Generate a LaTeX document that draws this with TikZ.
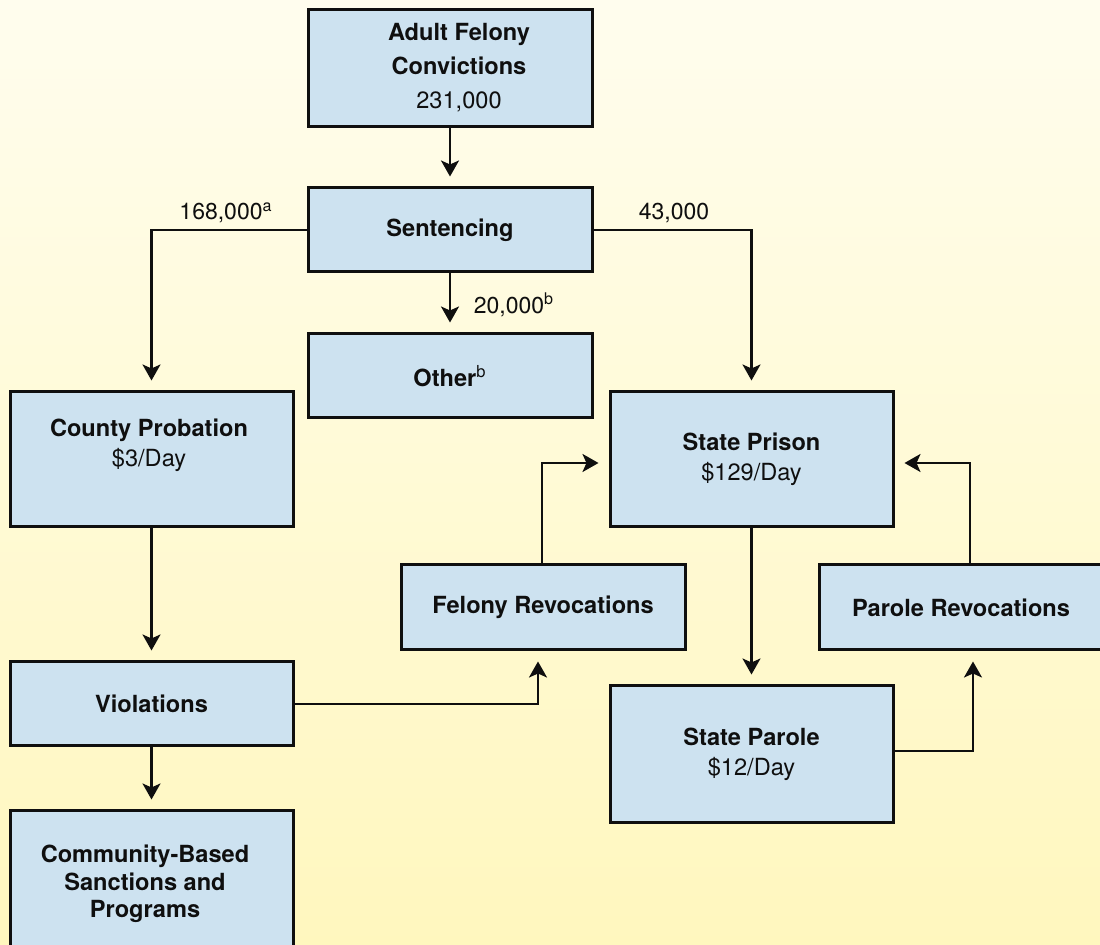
\documentclass[tikz,border=0pt]{standalone}
\usepackage{fontspec}
\setmainfont{TeX Gyre Heros}
\usetikzlibrary{arrows.meta,calc}
\definecolor{bgtop}{RGB}{255,253,238}
\definecolor{bgbot}{RGB}{255,247,190}
\definecolor{boxfill}{RGB}{205,226,240}
\definecolor{ink}{RGB}{15,15,15}
\tikzset{
 box/.style={draw=ink, fill=boxfill, line width=1.5pt, rectangle, inner sep=0pt, text=ink, align=center, font=\fontsize{11.8}{15}\selectfont},
 txt/.style={text=ink, align=center, inner sep=0pt},
 conn/.style={draw=ink, line width=1.2pt},
 arr/.style={conn, -{Stealth[length=8pt,width=9pt,inset=2pt]}, shorten >=5pt},
 lbl/.style={text=ink, inner sep=0pt, font=\fontsize{11.5}{13}\selectfont}
}
\begin{document}
\begin{tikzpicture}[x=0.5pt,y=-0.5pt]
\useasboundingbox (0,0) rectangle (1100,945);
\clip (0,0) rectangle (1100,945);
\shade[top color=bgtop,bottom color=bgbot] (0,0) rectangle (1100,945);

\node[box, minimum width=142pt, minimum height=58.5pt] (adult) at (450,68.5) {};
\node[txt, font=\fontsize{11.8}{17}\selectfont] (adultT) at (459,68) {\textbf{Adult Felony}\\\textbf{Convictions}\\231,000};
\node[box, minimum width=142pt, minimum height=42pt] (sent) at (450,230) {\textbf{Sentencing}};
\node[box, minimum width=142pt, minimum height=42pt] (other) at (450,376) {\textbf{Other}\textsuperscript{b}};
\node[box, minimum width=141.5pt, minimum height=67.5pt] (county) at (151.5,459.5) {};
\node[txt, font=\fontsize{11.8}{15}\selectfont] (countyT) at (149,445) {\textbf{County Probation}\\\$3/Day};
\node[box, minimum width=141.5pt, minimum height=67.5pt] (prison) at (751.5,459.5) {\textbf{State Prison}\\\$129/Day};
\node[box, minimum width=142pt, minimum height=42.5pt] (felrev) at (543,607.5) {\textbf{Felony Revocations}};
\node[box, minimum width=142pt, minimum height=42.5pt] (parrev) at (961,607.5) {\textbf{Parole Revocations}};
\node[box, minimum width=141.5pt, minimum height=42pt] (viol) at (151.5,704) {\textbf{Violations}};
\node[box, minimum width=141.5pt, minimum height=68.5pt] (parole) at (751.5,754.5) {\textbf{State Parole}\\\$12/Day};
\node[box, minimum width=141.5pt, minimum height=73pt] (comm) at (151.5,884) {};
\node[txt, font=\fontsize{11.8}{13.75}\selectfont] (commT) at (145,884) {\textbf{Community-Based}\\\textbf{Sanctions and}\\\textbf{Programs}};

\node[lbl] (l168) at (226,213) {168,000\textsuperscript{a}};
\node[lbl] (l43) at (674,213) {43,000};
\node[lbl] (l20) at (514,305) {20,000\textsuperscript{b}};

\draw[arr] (adult) -- (sent);
\draw[arr] (sent.west) -| (county.north);
\draw[arr] (sent.east) -| (prison.north);
\draw[arr] (sent) -- (other);
\draw[arr] (county) -- (viol);
\draw[arr] (viol) -- (comm);
\draw[arr] (viol.east) -| ([xshift=-2.5pt]felrev.south);
\draw[arr] ([xshift=-0.5pt]felrev.north) |- ([yshift=-1.75pt]prison.west);
\draw[arr] (prison) -- (parole);
\draw[arr] ([yshift=1.75pt]parole.east) -| ([xshift=6pt]parrev.south);
\draw[arr] ([xshift=4.5pt]parrev.north) |- ([yshift=-1.75pt]prison.east);
\end{tikzpicture}
\end{document}
